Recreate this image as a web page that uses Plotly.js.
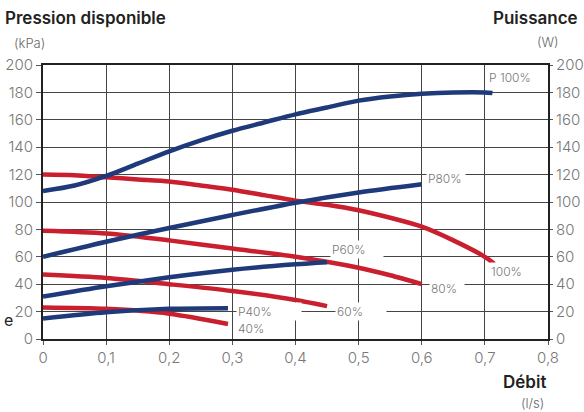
<!DOCTYPE html>
<html>
<head>
<meta charset="utf-8">
<script src="https://cdn.plot.ly/plotly-3.0.1.min.js"></script>
<style>html,body{margin:0;padding:0;background:#fff;}#chart{width:584px;height:412px;}</style>
</head>
<body>
<div id="chart"></div>
<script>
// Flow (l/s) and pressure curves (kPa, red) / power curves (W, blue)
const xP100 = [0, 0.05, 0.1, 0.15, 0.2, 0.25, 0.3, 0.35, 0.4, 0.45, 0.5, 0.55, 0.6, 0.65, 0.7, 0.712];
const yP100 = [108, 112, 119, 128, 137, 145, 152, 158, 164, 169, 174, 177, 179, 180, 180, 179.5];
const x100 = [0, 0.05, 0.1, 0.15, 0.2, 0.25, 0.3, 0.35, 0.4, 0.45, 0.5, 0.55, 0.6, 0.65, 0.7, 0.715];
const y100 = [120, 119.5, 118, 116.5, 115, 112, 109, 105, 101, 98, 94, 88.5, 82, 72, 60, 55];
const xP80 = [0, 0.1, 0.2, 0.3, 0.4, 0.5, 0.6];
const yP80 = [60, 71, 81, 90.5, 99.5, 107, 113];
const x80 = [0, 0.1, 0.2, 0.3, 0.4, 0.5, 0.55, 0.6];
const y80 = [79, 77, 72, 66, 60, 52, 46.5, 40];
const xP60 = [0, 0.1, 0.2, 0.3, 0.4, 0.45];
const yP60 = [31, 38.5, 45, 50.5, 54.5, 56];
const x60 = [0, 0.1, 0.2, 0.3, 0.4, 0.45];
const y60 = [47, 44.5, 40, 35, 28.5, 24];
const xP40 = [0, 0.1, 0.2, 0.293];
const yP40 = [15, 19.5, 22, 22.5];
const x40 = [0, 0.1, 0.2, 0.293];
const y40 = [23, 22, 18.5, 11];

const xTicks = [0, 0.1, 0.2, 0.3, 0.4, 0.5, 0.6, 0.7, 0.8];
const yTicks = [0, 20, 40, 60, 80, 100, 120, 140, 160, 180, 200];

const BLUE = '#1e3a7a';
const RED = '#c91f2e';
const FONT = 'Inter, "Noto Sans", sans-serif';

function tr(x, y, color, axis) {
  return {x: x, y: y, type: 'scatter', mode: 'lines', yaxis: axis,
    line: {color: color, width: 4.5, shape: 'spline', smoothing: 0.8}, hoverinfo: 'skip'};
}

const data = [
  tr(x100, y100, RED, 'y'),
  tr(x80, y80, RED, 'y'),
  tr(x60, y60, RED, 'y'),
  tr(x40, y40, RED, 'y'),
  tr(xP100, yP100, BLUE, 'y2'),
  tr(xP80, yP80, BLUE, 'y2'),
  tr(xP60, yP60, BLUE, 'y2'),
  tr(xP40, yP40, BLUE, 'y2')
];

function lab(text, x, y, w) {
  return {text: text, x: x, y: y, xref: 'x', yref: 'y', xanchor: 'left', yanchor: 'middle',
    showarrow: false, align: 'left', bgcolor: '#ffffff', borderpad: 1, width: w,
    font: {family: FONT, size: 12, color: '#777', weight: 300}};
}
function paperTxt(text, x, y, size, color, weight, xa) {
  return {text: text, x: x, y: y, xref: 'paper', yref: 'paper',
    xanchor: xa, yanchor: 'middle', showarrow: false,
    font: {family: FONT, size: size, color: color, weight: weight}};
}
// paper coords: plot area x 42.5..548.5, y (bottom) 339..65 (top)
function px(p) { return (p - 42.5) / 506; }
function py(p) { return (339 - p) / 274; }

const annotations = [
  lab('P 100%', 0.703, 191, 50),
  lab('P80%', 0.607, 117, 36),
  lab('100%', 0.706, 49, 38),
  lab('80%', 0.612, 37, 32),
  lab('P60%', 0.455, 65, 50),
  lab('60%', 0.462, 20, 48),
  lab('P40%', 0.305, 20, 62),
  lab('40%', 0.305, 8, 30),
  paperTxt('Pression disponible', px(2), py(18), 17, '#222', 600, 'left'),
  paperTxt('(kPa)', px(11), py(43), 13, '#666', 300, 'left'),
  paperTxt('Puissance', px(581), py(18), 17, '#222', 600, 'right'),
  paperTxt('(W)', px(562), py(42), 13, '#666', 300, 'right'),
  paperTxt('Débit', px(549), py(382), 17, '#222', 600, 'right'),
  paperTxt('(l/s)', px(546), py(403), 13, '#666', 300, 'right'),
  paperTxt('e', px(1), py(320), 16, '#222', 400, 'left')
];

const axisCommon = {
  range: [0, 200], tickvals: yTicks, ticktext: yTicks.map(String),
  showgrid: true, gridcolor: '#444', gridwidth: 1, zeroline: false,
  showline: true, linecolor: '#222', linewidth: 2,
  ticks: 'outside', ticklen: 5, tickcolor: '#555',
  tickfont: {family: FONT, size: 15, color: '#777', weight: 300}, fixedrange: true
};

const layout = {
  width: 584, height: 412,
  margin: {l: 42.5, r: 35.5, t: 65, b: 73, pad: 0},
  paper_bgcolor: '#fff', plot_bgcolor: '#fff',
  showlegend: false,
  separators: ', ',
  xaxis: {
    range: [0, 0.8], tickvals: xTicks, ticktext: xTicks.map(v => String(v).replace('.', ',')),
    showgrid: true, gridcolor: '#444', gridwidth: 1, zeroline: false,
    showline: true, linecolor: '#222', linewidth: 2, mirror: true,
    ticks: 'outside', ticklen: 4, tickcolor: '#555',
    tickfont: {family: FONT, size: 15, color: '#777', weight: 300}, fixedrange: true
  },
  yaxis: Object.assign({}, axisCommon, {side: 'left'}),
  yaxis2: Object.assign({}, axisCommon, {side: 'right', overlaying: 'y', showgrid: false, ticklen: 3}),
  annotations: annotations
};

Plotly.newPlot('chart', data, layout, {staticPlot: true, displayModeBar: false});
</script>
</body>
</html>
